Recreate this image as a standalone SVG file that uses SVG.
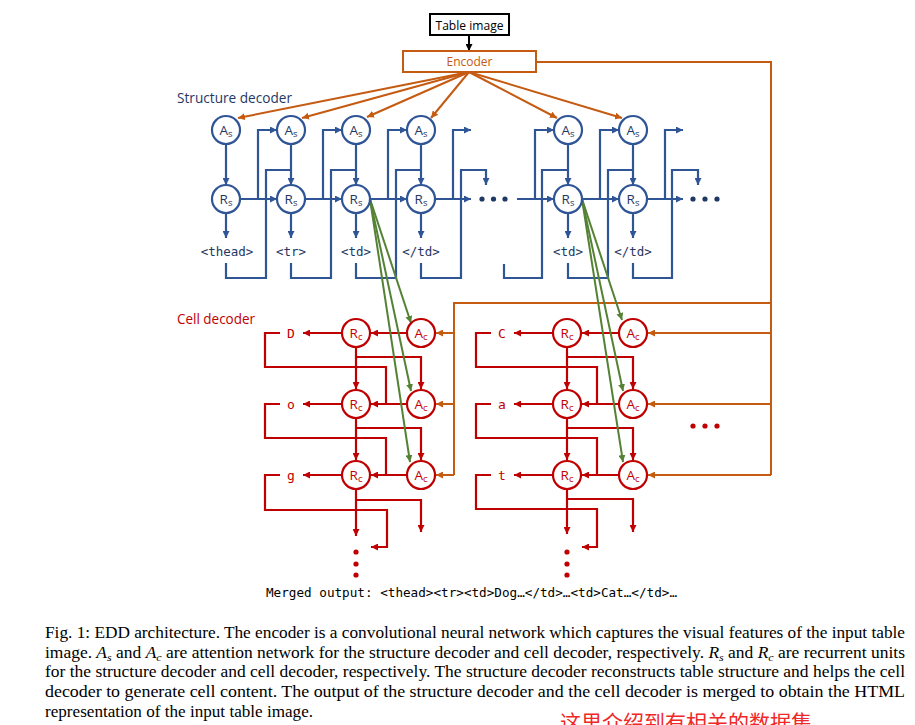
<svg xmlns="http://www.w3.org/2000/svg" width="915" height="725" viewBox="0 0 915 725">
<style>
.bl{stroke:#2F5597;stroke-width:2.2;fill:none}
.rd{stroke:#C00000;stroke-width:2.2;fill:none}
.or{stroke:#C55A11;stroke-width:2;fill:none}
.gr{stroke:#548235;stroke-width:2;fill:none}
.cb{fill:#fff;stroke:#2F5597;stroke-width:2.2}
.cr{fill:#fff;stroke:#C00000;stroke-width:2.2}
.nl{font-family:"Open Sans","Liberation Sans",Arial,sans-serif;font-size:13.5px;text-anchor:middle}
.nb{fill:#1F3864}
.nr{fill:#C00000}
.mono{font-family:"DejaVu Sans Mono","Liberation Mono",monospace}
.lab{font-size:12.5px;text-anchor:middle;fill:#1F3864}
.cl{font-size:13px;text-anchor:middle;fill:#C00000}
.cap{font-family:"Liberation Serif","Times New Roman",serif;font-size:16px;fill:#000}
.db{fill:#1F3864}
.dr{fill:#C00000}
</style>
<defs>
<marker id="ab" viewBox="0 0 10 10" refX="10" refY="5" markerWidth="7" markerHeight="7" markerUnits="userSpaceOnUse" orient="auto"><path d="M0,0L10,5L0,10z" fill="#2F5597"/></marker>
<marker id="ar" viewBox="0 0 10 10" refX="10" refY="5" markerWidth="7" markerHeight="7" markerUnits="userSpaceOnUse" orient="auto"><path d="M0,0L10,5L0,10z" fill="#C00000"/></marker>
<marker id="ao" viewBox="0 0 10 10" refX="10" refY="5" markerWidth="7" markerHeight="7" markerUnits="userSpaceOnUse" orient="auto"><path d="M0,0L10,5L0,10z" fill="#C55A11"/></marker>
<marker id="ag" viewBox="0 0 10 10" refX="10" refY="5" markerWidth="7" markerHeight="7" markerUnits="userSpaceOnUse" orient="auto"><path d="M0,0L10,5L0,10z" fill="#548235"/></marker>
<marker id="ak" viewBox="0 0 10 10" refX="10" refY="5" markerWidth="7" markerHeight="7" markerUnits="userSpaceOnUse" orient="auto"><path d="M0,0L10,5L0,10z" fill="#000"/></marker>
</defs>
<rect width="915" height="725" fill="#fff"/>

<g id="connectors">
  <path d="M469,35V51" stroke="#000" stroke-width="2" fill="none" marker-end="url(#ak)"/>
  <g class="or">
    <path d="M469,72L238,118" marker-end="url(#ao)"/>
    <path d="M469,72L302,118" marker-end="url(#ao)"/>
    <path d="M469,72L367,117" marker-end="url(#ao)"/>
    <path d="M469,72L431,118" marker-end="url(#ao)"/>
    <path d="M469,72L557,118" marker-end="url(#ao)"/>
    <path d="M469,72L622,118" marker-end="url(#ao)"/>
    <path d="M536,62H771V475"/>
    <path d="M771,333H648" marker-end="url(#ao)"/>
    <path d="M771,404H648" marker-end="url(#ao)"/>
    <path d="M771,475H648" marker-end="url(#ao)"/>
    <path d="M771,303H454V475"/>
    <path d="M454,333H436" marker-end="url(#ao)"/>
    <path d="M454,404H436" marker-end="url(#ao)"/>
    <path d="M454,475H436" marker-end="url(#ao)"/>
  </g>
  <g class="bl">
    <path d="M226,144V185" marker-end="url(#ab)"/>
    <path d="M226,213V238" marker-end="url(#ab)"/>
    <path d="M240,199H277" marker-end="url(#ab)"/>
    <path d="M258,199V130H277" marker-end="url(#ab)"/>
    <path d="M226,263V278H266V170H291"/>

    <path d="M291,144V185" marker-end="url(#ab)"/>
    <path d="M291,213V238" marker-end="url(#ab)"/>
    <path d="M305,199H342" marker-end="url(#ab)"/>
    <path d="M323,199V130H342" marker-end="url(#ab)"/>
    <path d="M291,263V278H331V170H356"/>

    <path d="M356,144V185" marker-end="url(#ab)"/>
    <path d="M356,213V238" marker-end="url(#ab)"/>
    <path d="M370,199H407" marker-end="url(#ab)"/>
    <path d="M388,199V130H407" marker-end="url(#ab)"/>
    <path d="M356,263V278H396V170H421"/>

    <path d="M421,144V185" marker-end="url(#ab)"/>
    <path d="M421,213V238" marker-end="url(#ab)"/>
    <path d="M435,199H471" marker-end="url(#ab)"/>
    <path d="M453,199V130H471" marker-end="url(#ab)"/>
    <path d="M421,263V278H461V170H486V185" marker-end="url(#ab)"/>

    <path d="M517,199H554" marker-end="url(#ab)"/>
    <path d="M535,199V130H554" marker-end="url(#ab)"/>
    <path d="M504,264V278H542V170H568"/>

    <path d="M568,144V185" marker-end="url(#ab)"/>
    <path d="M568,213V238" marker-end="url(#ab)"/>
    <path d="M582,199H619" marker-end="url(#ab)"/>
    <path d="M600,199V130H619" marker-end="url(#ab)"/>
    <path d="M568,263V278H608V170H633"/>

    <path d="M633,144V185" marker-end="url(#ab)"/>
    <path d="M633,213V238" marker-end="url(#ab)"/>
    <path d="M647,199H683" marker-end="url(#ab)"/>
    <path d="M665,199V130H683" marker-end="url(#ab)"/>
    <path d="M633,263V278H672V170H698V185" marker-end="url(#ab)"/>
  </g>
  <g class="rd">
    <path d="M407,333H371" marker-end="url(#ar)"/>
    <path d="M342,333H303" marker-end="url(#ar)"/>
    <path d="M280,333H265V367H386V404"/>
    <path d="M356,347V389" marker-end="url(#ar)"/>
    <path d="M356,357H421V389" marker-end="url(#ar)"/>

    <path d="M407,404H371" marker-end="url(#ar)"/>
    <path d="M342,404H303" marker-end="url(#ar)"/>
    <path d="M280,404H265V438H386V475"/>
    <path d="M356,418V460" marker-end="url(#ar)"/>
    <path d="M356,428H421V460" marker-end="url(#ar)"/>

    <path d="M407,475H371" marker-end="url(#ar)"/>
    <path d="M342,475H303" marker-end="url(#ar)"/>
    <path d="M280,475H265V510H387V547H371" marker-end="url(#ar)"/>
    <path d="M356,489V536" marker-end="url(#ar)"/>
    <path d="M356,500H421V532" marker-end="url(#ar)"/>
  </g>
  <g class="rd">
    <path d="M619,333H582" marker-end="url(#ar)"/>
    <path d="M553,333H514" marker-end="url(#ar)"/>
    <path d="M491,333H476V367H597V404"/>
    <path d="M567,347V389" marker-end="url(#ar)"/>
    <path d="M567,357H633V389" marker-end="url(#ar)"/>

    <path d="M619,404H582" marker-end="url(#ar)"/>
    <path d="M553,404H514" marker-end="url(#ar)"/>
    <path d="M491,404H476V438H597V475"/>
    <path d="M567,418V460" marker-end="url(#ar)"/>
    <path d="M567,428H633V460" marker-end="url(#ar)"/>

    <path d="M619,475H582" marker-end="url(#ar)"/>
    <path d="M553,475H514" marker-end="url(#ar)"/>
    <path d="M491,475H476V509H597V547H582" marker-end="url(#ar)"/>
    <path d="M567,489V534" marker-end="url(#ar)"/>
    <path d="M567,499H633V532" marker-end="url(#ar)"/>
  </g>
  <g class="gr">
    <path d="M370,199L411,323" marker-end="url(#ag)"/>
    <path d="M370,199L411,391" marker-end="url(#ag)"/>
    <path d="M370,199L410,462" marker-end="url(#ag)"/>
    <path d="M582,199L622,320" marker-end="url(#ag)"/>
    <path d="M582,199L623,391" marker-end="url(#ag)"/>
    <path d="M582,199L623,462" marker-end="url(#ag)"/>
  </g>
  <g class="db">
    <circle cx="482" cy="199" r="2.6"/><circle cx="493.5" cy="199" r="2.6"/><circle cx="505" cy="199" r="2.6"/>
    <circle cx="693" cy="199" r="2.6"/><circle cx="705" cy="199" r="2.6"/><circle cx="717" cy="199" r="2.6"/>
  </g>
  <g class="dr">
    <circle cx="356" cy="552" r="2.6"/><circle cx="356" cy="564" r="2.6"/><circle cx="356" cy="575" r="2.6"/>
    <circle cx="567" cy="552" r="2.6"/><circle cx="567" cy="564" r="2.6"/><circle cx="567" cy="575" r="2.6"/>
    <circle cx="693" cy="426" r="2.6"/><circle cx="705" cy="426" r="2.6"/><circle cx="717" cy="426" r="2.6"/>
  </g>
</g>

<g id="table-image">
  <rect x="430" y="14" width="79" height="21" fill="#fff" stroke="#000" stroke-width="2"/>
  <text x="469.5" y="29.5" font-family="'Open Sans','Liberation Sans',Arial,sans-serif" font-size="12.5" text-anchor="middle" fill="#000" textLength="68" lengthAdjust="spacingAndGlyphs">Table image</text>
</g>
<g id="encoder">
  <rect x="403" y="51" width="133" height="21" fill="#fff" stroke="#C55A11" stroke-width="2"/>
  <text x="469.5" y="66" font-family="'Open Sans','Liberation Sans',Arial,sans-serif" font-size="12.5" text-anchor="middle" fill="#C55A11" textLength="46" lengthAdjust="spacingAndGlyphs">Encoder</text>
</g>

<g id="structure-decoder-title"><text x="177" y="103" font-family="'Open Sans','Liberation Sans',Arial,sans-serif" font-size="14" fill="#1F3864" textLength="115" lengthAdjust="spacingAndGlyphs">Structure decoder</text></g>
<g id="cell-decoder-title"><text x="177" y="324" font-family="'Open Sans','Liberation Sans',Arial,sans-serif" font-size="14" fill="#C00000" textLength="78" lengthAdjust="spacingAndGlyphs">Cell decoder</text></g>

<g id="As1"><circle class="cb" cx="226" cy="130" r="14"/><text class="nl nb" x="226" y="134.5">A<tspan font-size="9.5" dy="2">s</tspan></text></g>
<g id="As2"><circle class="cb" cx="291" cy="130" r="14"/><text class="nl nb" x="291" y="134.5">A<tspan font-size="9.5" dy="2">s</tspan></text></g>
<g id="As3"><circle class="cb" cx="356" cy="130" r="14"/><text class="nl nb" x="356" y="134.5">A<tspan font-size="9.5" dy="2">s</tspan></text></g>
<g id="As4"><circle class="cb" cx="421" cy="130" r="14"/><text class="nl nb" x="421" y="134.5">A<tspan font-size="9.5" dy="2">s</tspan></text></g>
<g id="As5"><circle class="cb" cx="568" cy="130" r="14"/><text class="nl nb" x="568" y="134.5">A<tspan font-size="9.5" dy="2">s</tspan></text></g>
<g id="As6"><circle class="cb" cx="633" cy="130" r="14"/><text class="nl nb" x="633" y="134.5">A<tspan font-size="9.5" dy="2">s</tspan></text></g>

<g id="Rs1"><circle class="cb" cx="226" cy="199" r="14"/><text class="nl nb" x="226" y="203.5">R<tspan font-size="9.5" dy="2">s</tspan></text></g>
<g id="Rs2"><circle class="cb" cx="291" cy="199" r="14"/><text class="nl nb" x="291" y="203.5">R<tspan font-size="9.5" dy="2">s</tspan></text></g>
<g id="Rs3"><circle class="cb" cx="356" cy="199" r="14"/><text class="nl nb" x="356" y="203.5">R<tspan font-size="9.5" dy="2">s</tspan></text></g>
<g id="Rs4"><circle class="cb" cx="421" cy="199" r="14"/><text class="nl nb" x="421" y="203.5">R<tspan font-size="9.5" dy="2">s</tspan></text></g>
<g id="Rs5"><circle class="cb" cx="568" cy="199" r="14"/><text class="nl nb" x="568" y="203.5">R<tspan font-size="9.5" dy="2">s</tspan></text></g>
<g id="Rs6"><circle class="cb" cx="633" cy="199" r="14"/><text class="nl nb" x="633" y="203.5">R<tspan font-size="9.5" dy="2">s</tspan></text></g>

<g id="structure-outputs" class="mono">
  <text class="lab" x="227" y="255.5">&lt;thead&gt;</text>
  <text class="lab" x="291" y="255.5">&lt;tr&gt;</text>
  <text class="lab" x="356" y="255.5">&lt;td&gt;</text>
  <text class="lab" x="421" y="255.5">&lt;/td&gt;</text>
  <text class="lab" x="568" y="255.5">&lt;td&gt;</text>
  <text class="lab" x="633" y="255.5">&lt;/td&gt;</text>
</g>

<g id="Rc1"><circle class="cr" cx="356" cy="333" r="14"/><text class="nl nr" x="356" y="337.5">R<tspan font-size="9.5" dy="2">c</tspan></text></g>
<g id="Rc2"><circle class="cr" cx="356" cy="404" r="14"/><text class="nl nr" x="356" y="408.5">R<tspan font-size="9.5" dy="2">c</tspan></text></g>
<g id="Rc3"><circle class="cr" cx="356" cy="475" r="14"/><text class="nl nr" x="356" y="479.5">R<tspan font-size="9.5" dy="2">c</tspan></text></g>
<g id="Ac1"><circle class="cr" cx="421" cy="333" r="14"/><text class="nl nr" x="421" y="337.5">A<tspan font-size="9.5" dy="2">c</tspan></text></g>
<g id="Ac2"><circle class="cr" cx="421" cy="404" r="14"/><text class="nl nr" x="421" y="408.5">A<tspan font-size="9.5" dy="2">c</tspan></text></g>
<g id="Ac3"><circle class="cr" cx="421" cy="475" r="14"/><text class="nl nr" x="421" y="479.5">A<tspan font-size="9.5" dy="2">c</tspan></text></g>
<g id="Rc4"><circle class="cr" cx="567" cy="333" r="14"/><text class="nl nr" x="567" y="337.5">R<tspan font-size="9.5" dy="2">c</tspan></text></g>
<g id="Rc5"><circle class="cr" cx="567" cy="404" r="14"/><text class="nl nr" x="567" y="408.5">R<tspan font-size="9.5" dy="2">c</tspan></text></g>
<g id="Rc6"><circle class="cr" cx="567" cy="475" r="14"/><text class="nl nr" x="567" y="479.5">R<tspan font-size="9.5" dy="2">c</tspan></text></g>
<g id="Ac4"><circle class="cr" cx="633" cy="333" r="14"/><text class="nl nr" x="633" y="337.5">A<tspan font-size="9.5" dy="2">c</tspan></text></g>
<g id="Ac5"><circle class="cr" cx="633" cy="404" r="14"/><text class="nl nr" x="633" y="408.5">A<tspan font-size="9.5" dy="2">c</tspan></text></g>
<g id="Ac6"><circle class="cr" cx="633" cy="475" r="14"/><text class="nl nr" x="633" y="479.5">A<tspan font-size="9.5" dy="2">c</tspan></text></g>

<g id="cell-outputs" class="mono">
  <text class="cl" x="291" y="337.5">D</text>
  <text class="cl" x="291" y="408.5">o</text>
  <text class="cl" x="291" y="479.5">g</text>
  <text class="cl" x="502" y="337.5">C</text>
  <text class="cl" x="502" y="408.5">a</text>
  <text class="cl" x="502" y="479.5">t</text>
</g>

<g id="merged-output"><text class="mono" x="266" y="597" font-size="12.6" fill="#000" textLength="411" lengthAdjust="spacingAndGlyphs">Merged output: &lt;thead&gt;&lt;tr&gt;&lt;td&gt;Dog…&lt;/td&gt;…&lt;td&gt;Cat…&lt;/td&gt;…</text></g>

<g id="caption" class="cap">
  <text x="45" y="638" textLength="860" lengthAdjust="spacingAndGlyphs">Fig. 1: EDD architecture. The encoder is a convolutional neural network which captures the visual features of the input table</text>
  <text x="45" y="658" textLength="860" lengthAdjust="spacingAndGlyphs">image. <tspan font-style="italic">A</tspan><tspan font-style="italic" font-size="11" dy="3">s</tspan><tspan dy="-3"> and </tspan><tspan font-style="italic">A</tspan><tspan font-style="italic" font-size="11" dy="3">c</tspan><tspan dy="-3"> are attention network for the structure decoder and cell decoder, respectively. </tspan><tspan font-style="italic">R</tspan><tspan font-style="italic" font-size="11" dy="3">s</tspan><tspan dy="-3"> and </tspan><tspan font-style="italic">R</tspan><tspan font-style="italic" font-size="11" dy="3">c</tspan><tspan dy="-3"> are recurrent units</tspan></text>
  <text x="45" y="677" textLength="860" lengthAdjust="spacingAndGlyphs">for the structure decoder and cell decoder, respectively. The structure decoder reconstructs table structure and helps the cell</text>
  <text x="45" y="697" textLength="860" lengthAdjust="spacingAndGlyphs">decoder to generate cell content. The output of the structure decoder and the cell decoder is merged to obtain the HTML</text>
  <text x="45" y="717" textLength="268" lengthAdjust="spacingAndGlyphs">representation of the input table image.</text>
</g>

<g id="overlay-note"><text x="560" y="730" font-family="'Noto Sans CJK SC',sans-serif" font-size="21" fill="#F02828">这里介绍到有相关的数据集</text></g>
</svg>
